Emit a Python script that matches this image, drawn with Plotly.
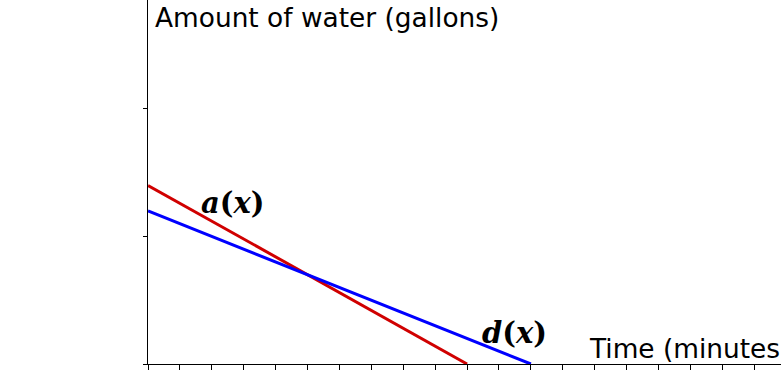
import plotly.graph_objects as go

# Data (minutes, gallons)
time_a = [0, 10]
water_a = [70, 0]
time_d = [0, 12]
water_d = [60, 0]

x_ticks = list(range(0, 20))
y_ticks = [0, 50, 100]

fig = go.Figure()
fig.add_trace(go.Scatter(x=time_a, y=water_a, mode="lines",
                         line=dict(color="#d00000", width=3), hoverinfo="skip"))
fig.add_trace(go.Scatter(x=time_d, y=water_d, mode="lines",
                         line=dict(color="#0000ff", width=3), hoverinfo="skip"))

fig.update_layout(
    width=781, height=387,
    margin=dict(l=148, r=0, t=0, b=23),
    plot_bgcolor="white", paper_bgcolor="white",
    showlegend=False,
    xaxis=dict(range=[0, 19.84], tickvals=x_ticks, showticklabels=False,
               ticks="outside", ticklen=5, tickcolor="black", tickwidth=1,
               showline=True, linecolor="black", linewidth=1.2,
               showgrid=False, zeroline=False, fixedrange=True),
    yaxis=dict(range=[0, 142.7], tickvals=y_ticks, showticklabels=False,
               ticks="outside", ticklen=4, tickcolor="black", tickwidth=1,
               showline=True, linecolor="black", linewidth=1.2,
               showgrid=False, zeroline=False, fixedrange=True),
    font=dict(family="DejaVu Sans", color="black"),
)

fig.add_annotation(text="Amount of water (gallons)", xref="paper", yref="paper",
                   x=(153 - 148) / 633, y=1.0, xanchor="left", yanchor="top", showarrow=False,
                   font=dict(size=26.4, family="DejaVu Sans", color="black"), yshift=0)
fig.add_annotation(text="Time (minutes)", xref="paper", yref="paper",
                   x=(587 - 148) / 633, y=0, xanchor="left", yanchor="bottom", showarrow=False,
                   font=dict(size=26.4, family="DejaVu Sans", color="black"), yshift=-2)
fig.add_annotation(text="<b><i>a</i>(<i>x</i>)</b>", x=2.66, y=63.1,
                   xref="x", yref="y", showarrow=False,
                   font=dict(size=29, family="DejaVu Serif", color="black"))
fig.add_annotation(text="<b><i>d</i>(<i>x</i>)</b>", x=11.5, y=12.2,
                   xref="x", yref="y", showarrow=False,
                   font=dict(size=29, family="DejaVu Serif", color="black"))

fig.write_html("out.html", config={"displayModeBar": False},
               post_script="document.body.style.margin='0';")
